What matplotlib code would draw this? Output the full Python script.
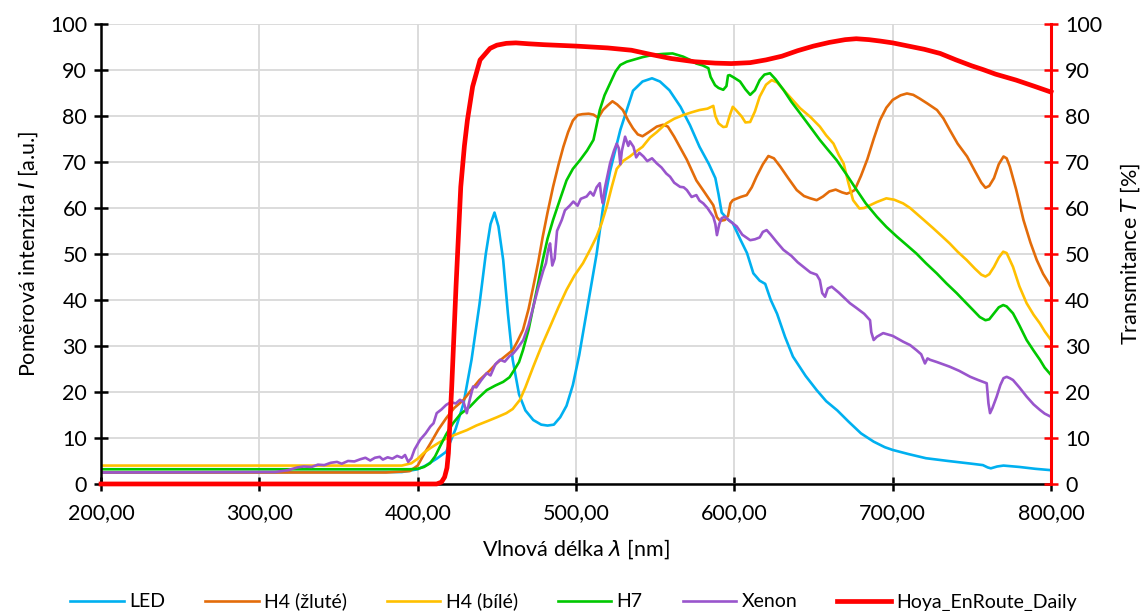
import matplotlib
matplotlib.use("Agg")
import matplotlib.pyplot as plt
from matplotlib.ticker import FuncFormatter, MultipleLocator

plt.rcParams['font.family'] = ['Lato', 'DejaVu Sans']
plt.rcParams['mathtext.fontset'] = 'custom'
plt.rcParams['mathtext.it'] = 'DejaVu Sans:italic'

# LED
led_nm = [200, 390, 400, 405, 412, 418, 424, 429, 434, 439, 443, 446, 448.5, 451, 454, 457, 460, 464, 468,
          473, 478, 482, 486, 490, 494, 498, 502, 507, 513, 517, 521.5, 528, 536, 542, 548, 553, 559, 566,
          572, 578, 584, 588, 590, 592, 596, 599, 604, 608, 612, 616, 619.5, 623, 627, 632, 637, 645, 652,
          658, 665, 672, 680, 688, 695, 700, 710, 721, 735, 750, 757, 760, 762, 766, 770, 780, 790, 800]
led_val = [2.5, 2.6, 3.2, 4.0, 5.5, 7.0, 12.0, 17.6, 27.0, 39.0, 50.0, 56.5, 59.0, 56.0, 48.7, 37.0, 27.0, 19.5, 16.0,
           13.9, 12.9, 12.7, 12.9, 14.5, 17.0, 21.5, 28.0, 38.0, 50.0, 60.0, 68.0, 77.0, 85.5, 87.5, 88.2, 87.5, 85.6, 82.0,
           78.0, 73.3, 69.5, 66.5, 63.0, 59.0, 57.5, 56.7, 53.0, 50.2, 45.8, 44.2, 43.5, 40.0, 37.0, 32.0, 27.7, 23.5, 20.4,
           18.0, 16.0, 13.6, 11.0, 9.2, 8.0, 7.4, 6.5, 5.6, 5.0, 4.4, 4.1, 3.6, 3.4, 3.8, 4.0, 3.7, 3.3, 3.0]

# H4 (žluté)
h4z_nm = [200, 380, 395, 400, 404, 408, 413, 418, 423, 429, 434, 439, 445, 450, 455, 460, 463, 466.5, 470, 473,
          476, 479, 482, 485.5, 489, 492, 495, 498, 501, 504, 508, 511, 514, 517, 520, 523, 526, 529.6, 533, 536,
          539, 542, 546, 551, 555, 558, 562, 566, 570, 576, 581, 586.7, 589, 591, 594, 596, 597.5, 599, 604,
          607.8, 611, 614, 618, 621.5, 625, 629, 634, 639.4, 644, 648, 652, 656, 660, 664, 668, 671, 674, 676,
          680, 684, 688, 692, 696, 700, 705, 709, 713, 717, 722, 728, 732, 736, 741, 747, 752, 756, 758.6, 761,
          764, 767, 770, 772, 774, 778, 782.6, 787, 791, 795, 800]
h4z_val = [2.5, 2.5, 2.8, 4.0, 6.5, 8.8, 11.8, 14.3, 16.5, 18.3, 20.5, 22.6, 24.5, 26.3, 27.7, 29.1, 31.0, 33.5, 38.0, 42.9,
           48.0, 53.8, 59.0, 64.6, 69.5, 73.3, 76.5, 79.0, 80.2, 80.4, 80.5, 80.3, 79.6, 81.3, 82.3, 83.2, 82.5, 81.3, 79.0, 77.3,
           76.0, 75.6, 76.5, 77.7, 78.1, 77.7, 75.5, 73.0, 70.5, 66.0, 63.5, 60.6, 58.0, 57.2, 57.4, 58.3, 61.0, 61.7, 62.4,
           62.8, 64.5, 66.8, 69.5, 71.3, 70.8, 69.0, 66.5, 63.9, 62.6, 62.1, 61.7, 62.5, 63.6, 64.0, 63.4, 63.1, 63.5, 63.9,
           67.0, 70.6, 75.0, 79.1, 81.8, 83.5, 84.5, 84.9, 84.6, 83.8, 82.7, 81.3, 79.5, 77.0, 74.0, 71.2, 68.0, 65.5, 64.4, 64.8,
           66.5, 69.5, 71.2, 70.8, 69.0, 64.0, 57.4, 52.5, 48.7, 45.7, 42.9]

# H4 (bílé)
h4b_nm = [200, 390, 396, 400, 404, 408, 413, 418, 425, 431, 437, 443.6, 450, 456, 460, 464.6, 468, 473, 478, 483.6,
          489, 494, 499, 504.4, 509, 513, 516, 519.4, 522.5, 525.7, 530, 534, 538, 542, 546.7, 551, 557, 562, 567.7,
          573, 578, 583, 586.7, 588, 590, 593, 595, 597, 599, 601, 604.6, 607, 610, 613, 616, 620, 623.6, 627, 631,
          636, 641.5, 648, 654, 658, 662.6, 666, 669, 672, 675, 679, 682, 685.7, 690, 696, 701, 706.6, 711, 715,
          720, 725.6, 731, 736, 741, 746.7, 752, 756, 758.6, 761, 764, 767, 769.8, 772, 776, 780, 784.6, 789, 793,
          796, 800]
h4b_val = [4.0, 4.0, 4.5, 5.5, 6.8, 7.8, 8.9, 9.9, 10.9, 11.7, 12.7, 13.6, 14.5, 15.4, 16.3, 18.3, 21.0, 25.5, 29.8, 34.2,
           38.5, 42.2, 45.3, 48.0, 51.0, 53.8, 56.5, 60.3, 64.5, 68.5, 70.3, 71.2, 72.3, 73.3, 75.3, 76.5, 78.4, 79.4, 80.2,
           80.8, 81.3, 81.6, 82.2, 80.0, 78.4, 77.6, 77.7, 80.0, 82.0, 81.3, 79.9, 78.6, 78.7, 81.0, 84.2, 86.8, 87.8, 87.3, 85.7,
           83.8, 81.7, 79.8, 77.7, 75.8, 74.0, 71.5, 69.7, 65.5, 61.7, 59.9, 60.0, 60.6, 61.3, 62.1, 61.8, 61.0, 60.0, 58.8,
           57.3, 55.6, 53.9, 52.3, 50.5, 48.7, 46.8, 45.5, 45.1, 45.6, 47.2, 49.2, 50.5, 50.2, 47.2, 43.0, 39.3, 36.8, 34.9,
           33.2, 31.3]

# H7
h7_nm = [200, 395, 400, 404, 407.8, 411, 414, 418, 422.3, 427, 433, 438, 443.6, 449, 454, 458, 461, 464, 466.5, 470,
         473, 476, 479, 482, 485.5, 490, 494, 498, 502.5, 507, 511, 513, 515, 518, 521.5, 525, 528, 532, 536, 542,
         548.6, 555, 561, 567.7, 572, 576, 580, 583.6, 585, 587.8, 590, 593, 595, 596, 597, 600, 603.6, 607, 610,
         613, 616, 619, 622.5, 626, 631, 636, 641.5, 648, 654, 659, 664.6, 671, 677.3, 683, 690, 696, 702.6, 709,
         715, 721, 727.8, 734, 740.4, 746, 750.8, 755, 758.6, 761, 764, 767, 769.8, 772, 776, 780, 784.6, 789, 793,
         796, 800]
h7_val = [3.2, 3.2, 3.3, 3.7, 4.5, 6.0, 8.1, 10.8, 13.2, 15.2, 16.8, 18.6, 20.4, 21.4, 22.2, 23.2, 24.8, 26.5, 29.1, 33.5,
          38.5, 43.5, 48.7, 53.3, 57.4, 62.0, 66.0, 68.5, 70.4, 72.5, 74.8, 78.0, 81.3, 84.5, 87.1, 89.7, 91.1, 91.8, 92.2, 92.8,
          93.3, 93.5, 93.6, 92.9, 92.2, 91.4, 91.0, 90.4, 88.5, 86.7, 86.1, 85.7, 86.5, 88.8, 88.9, 88.3, 87.5, 85.8, 84.6,
          85.6, 87.8, 89.0, 89.3, 88.0, 85.7, 83.1, 80.6, 77.6, 74.8, 72.7, 70.4, 67.2, 63.9, 61.0, 58.1, 55.9, 53.8, 51.9,
          50.1, 48.0, 45.8, 43.6, 41.5, 39.5, 37.8, 36.3, 35.6, 35.8, 37.1, 38.4, 38.9, 38.6, 37.1, 34.5, 31.3, 29.0, 27.0,
          25.3, 23.7]

# Xenon
xe_nm = [200, 310, 318, 324, 328, 333, 337, 341, 345, 349, 352, 356, 360, 364, 367, 370, 373, 376, 378, 381,
         384, 387, 390, 392, 394, 396, 398, 401.5, 405, 408, 410, 412, 415, 418, 421, 424, 426.7, 429, 431, 433,
         435, 437, 440, 443.6, 446, 449, 452, 455, 458, 460.4, 463, 466.7, 470, 473, 476, 479.4, 481, 482.5, 483.6,
         485, 486.5, 488, 491, 493, 496, 498.3, 501, 503, 506.7, 509, 511, 513, 515, 516, 517, 518, 521.5, 524,
         525.7, 527, 528, 529, 531, 533, 534, 536.3, 538, 540, 542.6, 545, 548, 551, 554, 557, 559.4, 562, 565.7,
         568, 570, 573, 576, 578, 580.4, 583, 586.7, 588, 589, 590.5, 592, 594, 597, 601.5, 605, 610, 613, 616,
         618, 620.4, 623, 627, 631, 636, 640, 643.6, 648, 652, 654, 655.5, 657.3, 659, 661.5, 666, 670, 673, 677,
         682, 685.7, 686.5, 688, 690, 694, 700, 706.8, 711, 715, 718, 720.4, 722, 723.6, 728, 736, 742, 749, 754,
         759.4, 760.5, 761.5, 763, 765.7, 768, 770, 772, 774, 776, 780, 784.6, 789, 793, 796, 800]
xe_val = [2.5, 2.6, 3.0, 3.6, 3.8, 3.7, 4.2, 4.1, 4.6, 4.8, 4.4, 5.0, 4.9, 5.4, 5.7, 5.1, 5.7, 5.9, 5.3, 5.8,
          5.5, 6.1, 5.7, 6.3, 4.8, 5.6, 7.5, 9.6, 11.0, 12.5, 13.2, 15.4, 16.2, 17.2, 17.8, 17.5, 18.3, 17.8, 15.4, 18.5,
          21.2, 21.0, 22.5, 24.1, 23.6, 26.0, 27.0, 26.6, 27.8, 28.4, 29.5, 31.3, 34.5, 38.5, 42.5, 46.5, 48.0, 51.0, 52.3,
          47.5, 49.0, 55.0, 57.4, 59.5, 60.5, 61.4, 60.5, 62.0, 62.5, 63.5, 62.7, 64.5, 65.4, 62.5, 61.0, 64.0, 69.7, 72.5,
          74.0, 73.0, 69.5, 72.5, 75.5, 73.5, 74.5, 73.3, 71.0, 72.0, 71.2, 70.2, 70.8, 69.7, 68.8, 67.5, 66.8, 65.5, 64.6,
          64.5, 63.9, 62.4, 62.8, 61.6, 61.0, 60.0, 58.1, 56.5, 54.1, 56.5, 57.8, 58.1, 57.2, 56.0, 54.2, 53.0, 53.2, 53.6,
          54.8, 55.2, 54.2, 52.5, 50.9, 49.6, 48.2, 47.2, 46.0, 45.5, 44.3, 41.5, 40.7, 42.5, 42.9, 41.6, 40.3, 39.3, 38.3,
          37.0, 35.6, 33.0, 31.3, 32.0, 32.8, 32.2, 30.9, 30.2, 29.1, 28.2, 26.2, 27.3, 27.0, 26.5, 25.5, 24.6, 23.3, 22.6,
          21.9, 17.5, 15.4, 16.5, 19.0, 21.5, 23.0, 23.3, 23.0, 22.6, 21.0, 19.0, 17.3, 16.1, 15.3, 14.6]

# Hoya_EnRoute_Daily transmitance [%]
hoya_nm = [200, 412, 415, 417, 418.5, 419.4, 421.5, 424.2, 427.2, 429.5, 431.4, 434.7, 439.4, 445.7, 450, 456, 462,
           470, 480, 500, 520, 535, 547, 560, 575, 588, 598, 610, 620, 630, 640, 650, 660, 670, 677, 685, 692,
           700, 710, 720, 730, 740, 750, 757, 765, 778, 790, 800]
hoya_val = [0.0, 0.0, 0.4, 1.5, 3.5, 6.7, 21.2, 42.9, 64.6, 73.5, 79.1, 86.4, 92.2, 94.7, 95.4, 95.8, 95.9,
            95.7, 95.5, 95.2, 94.8, 94.3, 93.4, 92.5, 91.8, 91.5, 91.4, 91.6, 92.2, 93.0, 94.2, 95.2, 96.0, 96.6, 96.8, 96.6, 96.3,
            95.9, 95.2, 94.5, 93.6, 92.2, 90.9, 90.1, 89.1, 87.8, 86.4, 85.2]

fig = plt.figure(figsize=(11.47, 6.11), dpi=100)
ax = fig.add_axes([0.0881, 0.2079, 0.8282, 0.7528])

lw = 1.9
ax.plot(led_nm, led_val, color='#00B0F0', lw=lw, label='LED')
ax.plot(h4z_nm, h4z_val, color='#E36C0A', lw=lw, label='H4 (žluté)')
ax.plot(h4b_nm, h4b_val, color='#FFC000', lw=lw, label='H4 (bílé)')
ax.plot(h7_nm, h7_val, color='#00C800', lw=lw, label='H7')
ax.plot(xe_nm, xe_val, color='#9955CC', lw=lw, label='Xenon')

ax2 = ax.twinx()
ax2.plot(hoya_nm, hoya_val, color='#FF0000', lw=3.4, label='Hoya_EnRoute_Daily', clip_on=False)

for a in (ax, ax2):
    a.set_xlim(200, 800)
    a.set_ylim(0, 100)
    a.yaxis.set_major_locator(MultipleLocator(10))
    a.spines['top'].set_visible(False)

ax.xaxis.set_major_locator(MultipleLocator(100))
ax.xaxis.set_major_formatter(FuncFormatter(lambda v, p: f'{v:.2f}'.replace('.', ',')))
ax.grid(True, color='#D9D9D9', lw=1.3)
ax.set_axisbelow(True)

ax.spines['left'].set_linewidth(1.8)
ax.spines['bottom'].set_linewidth(1.8)
ax.spines['right'].set_visible(False)
ax2.spines['left'].set_visible(False)
ax2.spines['bottom'].set_visible(False)
ax2.spines['right'].set_color('#FF0000')
ax2.spines['right'].set_linewidth(2.2)

fs = 15.5
ax.tick_params(axis='both', direction='inout', length=10, width=1.8, labelsize=fs, colors='black', pad=5)
ax.tick_params(axis='x', pad=9)
ax2.tick_params(axis='y', direction='inout', length=10, width=1.8, labelsize=fs, color='#FF0000', pad=5)

ax.set_xlabel(r'Vlnová délka $\lambda$ [nm]', fontsize=fs, labelpad=10)
ax.set_ylabel(r'Poměrová intenzita $I$ [a.u.]', fontsize=fs, labelpad=7)
ax2.set_ylabel(r'Transmitance $T$ [%]', fontsize=fs, labelpad=12)

handles = ax.get_lines() + ax2.get_lines()
fig.legend(handles, [h.get_label() for h in handles], loc='lower center', bbox_to_anchor=(0.5, -0.028),
           ncol=6, frameon=False, fontsize=14, handlelength=2.75, columnspacing=2.05, handletextpad=0.28)

fig.savefig('out.png', dpi=100)
